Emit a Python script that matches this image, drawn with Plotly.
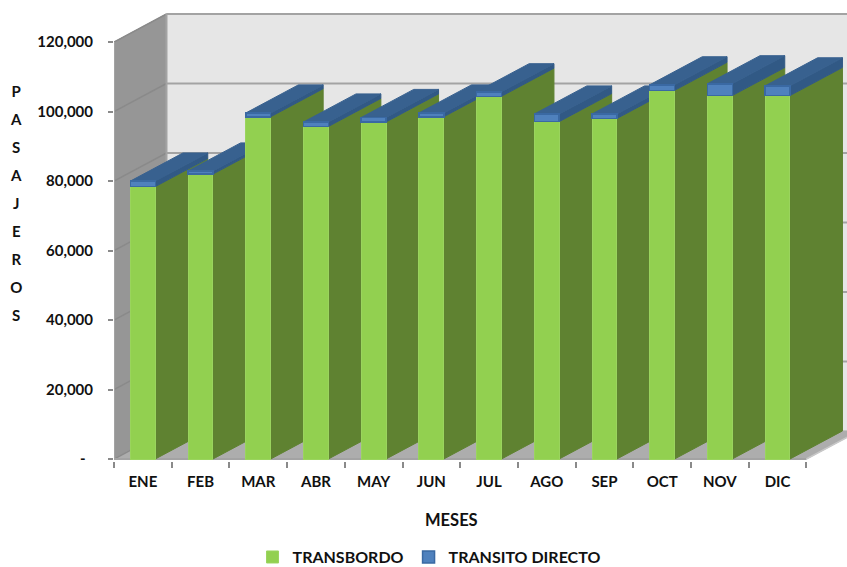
import plotly.graph_objects as go

months = ["ENE", "FEB", "MAR", "ABR", "MAY", "JUN", "JUL", "AGO", "SEP", "OCT", "NOV", "DIC"]
transbordo = [78400, 82000, 98500, 95700, 97000, 98500, 104400, 97100, 98000, 106100, 104600, 104600]
transito = [1600, 900, 1100, 1300, 1300, 1100, 1300, 2200, 1300, 1600, 3400, 2800]
y_ticks = [0, 20000, 40000, 60000, 80000, 100000, 120000]
y_labels = ["-\u00a0\u00a0", "20,000", "40,000", "60,000", "80,000", "100,000", "120,000"]
y_title = "PASAJEROS"

PX_X = 57.7
PX_Y = 416 / 120000
DX = 52.5 / PX_X
DY = 28 / PX_Y
X0 = -0.5
XR = 11.5
X_MAX = X0 + (847 - 114) / PX_X
Y_MIN = -2 / PX_Y
Y_MAX = 120000 + 29 / PX_Y
HALF = 0.215

GREEN, GREEN_SIDE = "#92D050", "#5F8231"
BLUE, BLUE_TOP, BLUE_SIDE = "#4F81BD", "#38618F", "#315985"
GRID = "#A3A3A3"


def poly(points, fill, line=None, width=1):
    path = "M" + "L".join(f"{x},{y}" for x, y in points) + "Z"
    return dict(type="path", path=path, xref="x", yref="y", layer="below", fillcolor=fill,
                line=dict(color=line or fill, width=width))


def seg(x1, y1, x2, y2, color=GRID, width=2):
    return dict(type="line", x0=x1, y0=y1, x1=x2, y1=y2, xref="x", yref="y", layer="below",
                line=dict(color=color, width=width))


shapes = [
    poly([(X0 + DX, DY), (X_MAX, DY), (X_MAX, 120000 + DY), (X0 + DX, 120000 + DY)], "#E6E6E6"),
    poly([(X0, 0), (X0 + DX, DY), (X0 + DX, 120000 + DY), (X0, 120000)], "#969696"),
    poly([(X0, 0), (XR, 0), (XR + DX, DY), (X0 + DX, DY)], "#ADADAD"),
]
for t in y_ticks:
    shapes.append(seg(X0, t, X0 + DX, t + DY, "#8A8A8A", 1.5))
    if t:
        shapes.append(seg(X0 + DX, t + DY, X_MAX, t + DY))
shapes += [
    seg(X0, 0, X0, 120000),
    seg(X0 + DX, DY, X0 + DX, 120000 + DY),
    seg(X0 + DX, 120000 + DY, X_MAX, 120000 + DY),
    seg(X0, 0, XR, 0),
    seg(XR, 0, XR + DX, DY, "#C8C8C8", 1.5),
]
for i, (g, b) in enumerate(zip(transbordo, transito)):
    t = g + b
    r = i + HALF
    l = i - HALF
    shapes.append(poly([(r, 0), (r + DX, DY), (r + DX, g + DY), (r, g)], GREEN_SIDE))
    shapes.append(poly([(r, g), (r + DX, g + DY), (r + DX, t + DY), (r, t)], BLUE_SIDE))
    shapes.append(poly([(l, t), (r, t), (r + DX, t + DY), (l + DX, t + DY)], BLUE_TOP))

x_idx = list(range(len(months)))
fig = go.Figure()
fig.add_bar(x=x_idx, y=transbordo, name="TRANSBORDO", width=2 * HALF,
            marker=dict(color=GREEN, line=dict(color="#9AD45E", width=1)))
fig.add_bar(x=x_idx, y=transito, name="TRANSITO DIRECTO", width=2 * HALF,
            marker=dict(color=BLUE, line=dict(color="#3A69A3", width=1.5)))

FONT = "Lato, Carlito, Arial, sans-serif"
INK = "#111111"
title_text = "<br>".join(f'<span style="font-size:15px">{c}</span>' for c in y_title)

fig.update_layout(
    width=847, height=567, barmode="stack", showlegend=True,
    margin=dict(l=114, r=0, t=13, b=106, pad=0, autoexpand=False),
    paper_bgcolor="white", plot_bgcolor="white",
    font=dict(family=FONT, size=15, color=INK, weight="bold"),
    shapes=shapes,
    xaxis=dict(range=[X0, X_MAX], tickmode="array", tickvals=x_idx, ticktext=months, ticks="",
               showgrid=False, zeroline=False, showline=False, ticklabelstandoff=10,
               tickfont=dict(family=FONT, size=15, weight="bold", color=INK),
               minor=dict(tickmode="array", tickvals=[X0 + k for k in range(13)], ticks="outside",
                          ticklen=6, tickwidth=1.5, tickcolor="#8A8A8A", showgrid=False)),
    yaxis=dict(range=[Y_MIN, Y_MAX], tickmode="array", tickvals=y_ticks, ticktext=y_labels,
               ticks="outside", ticklen=5, tickwidth=1.5, tickcolor="#8A8A8A",
               showgrid=False, zeroline=False, showline=False, ticklabelstandoff=12,
               tickfont=dict(family=FONT, size=15, weight="bold", color=INK)),
    legend=dict(orientation="h", x=0.189, y=-0.1765, xanchor="left", yanchor="top",
                traceorder="normal",
                font=dict(family=FONT, size=16, weight="bold", color=INK), bgcolor="rgba(0,0,0,0)"),
    annotations=[
        dict(text=title_text, xref="paper", yref="paper", x=-0.1336, y=0.5755, xanchor="center",
             yanchor="middle", showarrow=False, align="center",
             font=dict(family=FONT, size=21.5, weight="bold", color=INK)),
        dict(text="MESES", xref="paper", yref="paper", x=0.461, y=-0.1317, xanchor="center",
             yanchor="middle", showarrow=False,
             font=dict(family=FONT, size=16.5, weight="bold", color=INK)),
    ],
)
fig.write_html("out.html", config={"displayModeBar": False}, post_script="document.body.style.margin='0';")
